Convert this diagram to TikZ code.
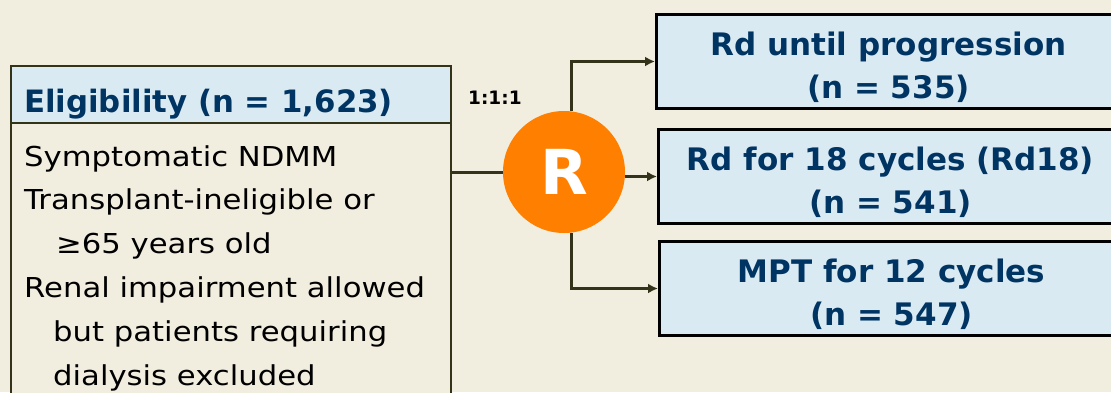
\documentclass[tikz,border=0pt]{standalone}
\usepackage{fontspec}
\setmainfont{DejaVu Sans}
\newfontfamily\widefont{DejaVu Sans}[FakeStretch=1.12]
\usetikzlibrary{arrows.meta}
\definecolor{bg}{HTML}{F2EEDF}
\definecolor{boxblue}{HTML}{DAEAF3}
\definecolor{navy}{HTML}{003462}
\definecolor{rorange}{HTML}{FF7F00}
\definecolor{linec}{HTML}{33331A}
\tikzset{
  armbox/.style={draw=black, line width=3pt, fill=boxblue, anchor=north west,
    minimum width=464, minimum height=94, inner sep=0},
  armtext/.style={inner sep=0, align=center, text=navy,
    font=\bfseries\fontsize{31}{43}\selectfont},
  conn/.style={draw=linec, line width=3pt},
  arr/.style={conn, -{Latex[length=10pt,width=10pt]}},
}
\begin{document}
\begin{tikzpicture}[x=1pt,y=-1pt]
\useasboundingbox (0,0) rectangle (1111,392);
\fill[bg] (0,0) rectangle (1111,392);
\clip (0,0) rectangle (1111,392);
% eligibility box
\node[draw=linec, line width=2pt, fill=boxblue, anchor=north west, minimum width=440, minimum height=57, inner sep=0] (hdr) at (10,65) {};
\node[draw=linec, line width=2pt, fill=bg, anchor=north west, minimum width=440, minimum height=320, inner sep=0] (body) at (10,122) {};
\node[anchor=base west, inner sep=0, text=navy, font=\bfseries\fontsize{30.8}{30.8}\selectfont] (hdrtext) at (24,112) {Eligibility (n = 1,623)};
\node[anchor=base west, inner sep=0, align=left, font=\widefont\fontsize{27.4}{43.8}\selectfont] (bodytext) at (24,385) {Symptomatic NDMM\\Transplant-ineligible or\\\hspace{32pt}≥65 years old\\Renal impairment allowed\\\hspace{29pt}but patients requiring\\\hspace{29pt}dialysis excluded};
% randomisation
\node[circle, fill=rorange, minimum size=122, inner sep=0, text=white, font=\bfseries\fontsize{62}{62}\selectfont] (R) at (564,172) {R};
\node[anchor=base west, inner sep=0, font=\bfseries\fontsize{18.5}{18.5}\selectfont] (ratio) at (468,104) {1:1:1};
% arms
\node[armbox] (b1) at (655,13) {};
\node[armbox] (b2) at (657,128) {};
\node[armbox] (b3) at (658,240) {};
\node[armtext] (t1) at ([yshift=-6]b1.center) {Rd until progression\\(n = 535)};
\node[armtext] (t2) at ([yshift=-6]b2.center) {Rd for 18 cycles (Rd18)\\(n = 541)};
\node[armtext] (t3) at ([yshift=-6]b3.center) {MPT for 12 cycles\\(n = 547)};
% connectors
\draw[conn] (body.east |- R) -- (R.west);
\draw[arr] ([xshift=7]R.north) |- (b1.west);
\draw[arr] (R.east |- b2.west) -- (b2.west);
\draw[arr] ([xshift=7]R.south) |- (b3.west);
\end{tikzpicture}
\end{document}
